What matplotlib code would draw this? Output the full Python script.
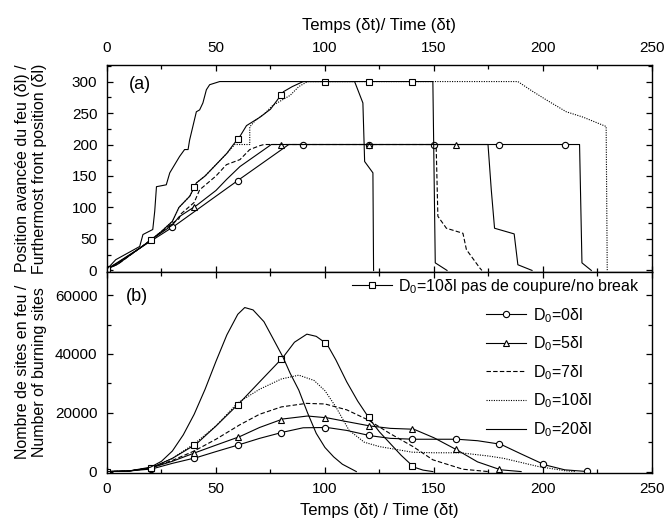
import numpy as np
import matplotlib
matplotlib.use("Agg")
import matplotlib.pyplot as plt
from matplotlib.lines import Line2D
from matplotlib.ticker import MultipleLocator

# ---------- (a) position avancée du feu ----------
# D0=0 (cercles)
t0a = [0, 30.7, 60.9, 83.4, 216.8, 217.9, 222.2]
p0a = [2, 70, 145, 200, 200, 12, 0]
mk0a = [0, 30, 60, 90, 120, 150, 180, 210]

# D0=5 (triangles)
t5a = [0, 5, 20, 30, 33, 41, 50, 55, 61, 68, 75.4, 174.8, 176.3, 177.8, 186.8, 188.5, 195]
p5a = [2, 10, 48, 72, 85, 103, 127, 145, 165, 182, 200, 200, 128, 67, 58, 9, 0]
mk5a = [0, 40, 80, 120, 160]

# D0=7 (tirets)
t7a = [0, 5, 20, 30, 33, 34, 40, 42.5, 50, 54.8, 61, 65.5, 70, 72, 151, 151.8, 155.7, 163.3, 164.9, 171, 172]
p7a = [2, 10, 48, 75, 82, 90, 108, 128, 150, 168, 176, 192, 198, 200, 200, 86, 67, 59, 33, 4, 0]

# D0=10 (pointillés)
t10a = [0, 5, 15, 20, 25, 30, 33, 38, 41, 45, 50, 55, 58.6, 65.5, 65.5, 68, 72, 76, 80, 84, 88, 92,
        188.5, 195, 201.5, 210.7, 218.4, 229, 229.5]
p10a = [2, 12, 35, 48, 62, 78, 100, 118, 139, 150, 168, 186, 200, 200, 228, 238, 248, 262, 270, 278, 292, 300,
        300, 285, 271, 252, 243.5, 228.6, 0]

# D0=10 pas de coupure (carrés)
t10na = [0, 5, 15, 20, 25, 30, 33, 38, 41, 45, 50, 55, 58, 61, 64, 70, 75, 78, 81, 85, 90,
         149.5, 150.6, 156]
p10na = [2, 12, 35, 48, 62, 78, 100, 118, 139, 150, 168, 186, 200, 213, 230, 243, 256, 270, 284, 292, 300,
         300, 12, 0]
mk10na = [0, 20, 40, 60, 80, 100, 120, 140]

# D0=20 (trait plein)
t20a = [0, 4, 15, 16.5, 21, 21.9, 22.7, 27.2, 28.8, 33.3, 35.6, 37.2, 37.9, 41, 42.5, 44, 45.6, 47.1, 51.7,
        113.6, 117.4, 118.2, 122, 122.3]
p20a = [2, 17, 38, 57, 65, 94, 133, 136, 155, 181, 192, 192, 207, 252, 255, 266, 287, 295, 300,
        300, 266, 173, 155, 0]

# ---------- (b) nombre de sites en feu ----------
t0b = [0, 10, 20.6, 30, 41, 50, 60.9, 70, 80.7, 90, 100.9, 110, 120.8, 130, 140.8, 150, 160.7, 170, 180.6,
       190, 200.8, 210, 220.6]
n0b = [0, 200, 900, 2800, 4750, 6800, 9200, 11300, 13400, 14900, 15000, 14000, 12200, 11300, 11000, 11000,
       11000, 10500, 9300, 6000, 2300, 600, 0]
mk0b = [0, 20, 40, 60, 80, 100, 120, 140, 160, 180, 200, 220]

t5b = [0, 10, 20, 30, 40, 50, 60.9, 70, 80.7, 92, 100.9, 110, 120.8, 130, 140.8, 150, 160.7, 170, 180.6, 190]
n5b = [0, 200, 1200, 3500, 6300, 9000, 11900, 15000, 17900, 18900, 18300, 17000, 15500, 14700, 14400,
       11500, 7300, 3300, 600, 0]
mk5b = [20, 40, 60, 80, 100, 120, 140, 160, 180]

t7b = [0, 10, 20, 30, 40, 50, 60.9, 70, 80, 91.5, 100, 110, 120, 129.7, 140.4, 149.5, 163.3, 175]
n7b = [0, 200, 1300, 3800, 7000, 11000, 15900, 19500, 22000, 23200, 23000, 21000, 17500, 13000, 8500,
       4000, 800, 0]

t10b = [0, 10, 20, 30, 40, 50, 60, 70, 80, 88, 95, 100, 105, 111, 118, 125, 140, 150, 162, 175, 182, 198,
        210, 215]
n10b = [0, 200, 1200, 4500, 9400, 15500, 23400, 28000, 31500, 32800, 31000, 27500, 22000, 14100, 10000,
        8500, 6600, 6400, 6400, 5300, 4500, 1700, 300, 0]

t10nb = [0, 10, 20, 30, 41, 50, 60.9, 70, 80.7, 86, 91.7, 96, 100.9, 105, 110, 115, 120.8, 125, 130, 135,
         140.8, 145, 149.5]
n10nb = [0, 200, 1150, 4500, 9400, 15500, 23400, 30500, 38800, 44000, 46750, 46000, 43400, 38000, 30500,
         24000, 17550, 13500, 9500, 5500, 1500, 500, 0]
mk10nb = [0, 20, 40, 60, 80, 100, 120, 140]

t20b = [0, 10, 20, 25, 30, 35, 40, 45, 50, 55, 60, 63.2, 67, 72, 76, 80.7, 84, 88, 92, 96, 100, 104, 108, 114.4]
n20b = [0, 200, 1500, 3500, 7000, 12500, 19500, 28000, 37500, 46500, 53500, 55800, 55000, 51000, 45500,
        39000, 33500, 27700, 20000, 13000, 8200, 5000, 2500, 0]

labels = ["D$_\\mathregular{0}$=10δl pas de coupure/no break",
          "D$_\\mathregular{0}$=0δl", "D$_\\mathregular{0}$=5δl", "D$_\\mathregular{0}$=7δl",
          "D$_\\mathregular{0}$=10δl", "D$_\\mathregular{0}$=20δl"]

# ---------- style ----------
plt.rcParams["font.family"] = "Liberation Sans"
plt.rcParams["mathtext.fontset"] = "custom"
plt.rcParams["mathtext.rm"] = "Liberation Sans"
plt.rcParams["mathtext.it"] = "Liberation Sans:italic"
plt.rcParams["font.size"] = 11
plt.rcParams["axes.linewidth"] = 1.0

lw = 0.8
dots = (0, (1, 1.2))
dash = (0, (4, 2))
mstyle = dict(color="black", lw=lw, ms=4.5, mfc="white", mec="black", mew=0.8)


def marks(ax, t, v, tm, marker):
  # place les symboles sur la courbe
  ax.plot(tm, np.interp(tm, t, v), ls="none", marker=marker, **{k: v2 for k, v2 in mstyle.items() if k != "lw"})


fig = plt.figure(figsize=(6.67, 5.30), dpi=100)
ax1 = fig.add_axes([0.1604, 0.4874, 0.817, 0.3896])
ax2 = fig.add_axes([0.1604, 0.108, 0.817, 0.3794], sharex=ax1)

# (a)
ax1.plot(t0a, p0a, color="black", lw=lw)
marks(ax1, t0a, p0a, mk0a, "o")
ax1.plot(t5a, p5a, color="black", lw=lw)
marks(ax1, t5a, p5a, mk5a, "^")
ax1.plot(t7a, p7a, color="black", lw=lw, ls=dash)
ax1.plot(t10a, p10a, color="black", lw=lw, ls=dots)
ax1.plot(t10na, p10na, color="black", lw=lw)
marks(ax1, t10na, p10na, mk10na, "s")
ax1.plot(t20a, p20a, color="black", lw=lw)

# (b)
ax2.plot(t0b, n0b, color="black", lw=lw)
marks(ax2, t0b, n0b, mk0b, "o")
ax2.plot(t5b, n5b, color="black", lw=lw)
marks(ax2, t5b, n5b, mk5b, "^")
ax2.plot(t7b, n7b, color="black", lw=lw, ls=dash)
ax2.plot(t10b, n10b, color="black", lw=lw, ls=dots)
ax2.plot(t10nb, n10nb, color="black", lw=lw)
marks(ax2, t10nb, n10nb, mk10nb, "s")
ax2.plot(t20b, n20b, color="black", lw=lw)

# axes
ax1.set_xlim(0, 250)
ax1.set_ylim(-2, 326)
ax2.set_ylim(-400, 68000)
for ax in (ax1, ax2):
  ax.xaxis.set_major_locator(MultipleLocator(50))
  ax.xaxis.set_minor_locator(MultipleLocator(25))
  ax.tick_params(which="both", direction="in", top=True, right=True, pad=7, labelsize=11)
  ax.tick_params(which="major", length=4.5, width=0.9)
  ax.tick_params(which="minor", length=3, width=0.9)
ax1.yaxis.set_major_locator(MultipleLocator(50))
ax1.yaxis.set_minor_locator(MultipleLocator(25))
ax2.yaxis.set_major_locator(MultipleLocator(20000))
ax2.yaxis.set_minor_locator(MultipleLocator(10000))
ax1.tick_params(axis="x", labeltop=True, labelbottom=False)

ax1.set_xlabel("Temps (δt)/ Time (δt)", fontsize=12, labelpad=8)
ax1.xaxis.set_label_position("top")
ax2.set_xlabel("Temps (δt) / Time (δt)", fontsize=12, labelpad=5)
ax1.set_ylabel("Position avancée du feu (δl) /\nFurthermost front position (δl)", fontsize=11.5)
ax2.set_ylabel("Nombre de sites en feu /\nNumber of burning sites", fontsize=11.5)
ax1.yaxis.set_label_coords(-0.11, 0.5)
ax2.yaxis.set_label_coords(-0.11, 0.5)

ax1.text(0.04, 0.905, "(a)", transform=ax1.transAxes, fontsize=13, va="center")
ax2.text(0.035, 0.875, "(b)", transform=ax2.transAxes, fontsize=13, va="center")

# légendes
h_sq = Line2D([], [], marker="s", **mstyle)
h_o = Line2D([], [], marker="o", **mstyle)
h_t = Line2D([], [], marker="^", **mstyle)
h_d = Line2D([], [], color="black", lw=lw, ls=dash)
h_p = Line2D([], [], color="black", lw=lw, ls=dots)
h_s = Line2D([], [], color="black", lw=lw)

leg1 = ax2.legend([h_sq], [labels[0]], loc="upper right", bbox_to_anchor=(0.978, 0.975), frameon=False,
                  fontsize=11.5, borderpad=0, borderaxespad=0, handlelength=2.5, handletextpad=0.4, numpoints=1)
ax2.add_artist(leg1)
ax2.legend([h_o, h_t, h_d, h_p, h_s], labels[1:], loc="upper left", bbox_to_anchor=(0.696, 0.83),
           frameon=False, fontsize=11.5, borderpad=0, borderaxespad=0, handlelength=2.5, handletextpad=0.4,
           labelspacing=0.62, numpoints=1)

fig.savefig("out.png", dpi=100)
